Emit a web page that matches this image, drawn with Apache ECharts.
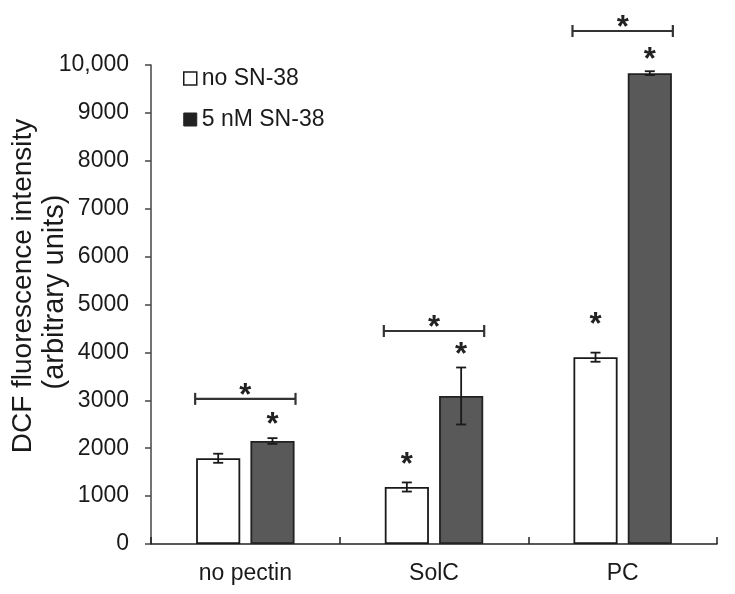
<!DOCTYPE html>
<html><head><meta charset="utf-8">
<script src="https://cdn.jsdelivr.net/npm/echarts@6.0.0/dist/echarts.min.js"></script>
<style>html,body{margin:0;padding:0;background:#fff}#c{width:735px;height:594px}</style>
</head><body><div id="c"></div>
<script>
// ---- data ----
const categories = ['no pectin', 'SolC', 'PC'];
const seriesNames = ['no SN-38', '5 nM SN-38'];
const noSN = [1790, 1190, 3900];
const noSNErr = [95, 95, 95];
const withSN = [2150, 3090, 9830];
const withSNErr = [60, 595, 40];
// significance marks (value-axis positions)
const noSNStar = [null, 1795, 4718];
const withSNStar = [2630, 4092, 10250];
const bracketY = [3030, 4447, 10710];
const bracketStarY = [3236, 4656, 10919];
const yMin = 0, yMax = 10000, yStep = 1000;

const FONT = 'Liberation Sans, Arial, sans-serif';
const OFF = 0.1439; // bar centre offset as fraction of band width
const INK = '#1a1a1a';

const errData = [];
categories.forEach((c, i) => {
  errData.push([i, noSN[i], noSNErr[i], -1]);
  errData.push([i, withSN[i], withSNErr[i], 1]);
});
const starData = [];
categories.forEach((c, i) => {
  if (noSNStar[i] != null) starData.push([i, noSNStar[i], -1]);
  if (withSNStar[i] != null) starData.push([i, withSNStar[i], 1]);
  starData.push([i, bracketStarY[i], 0]);
});
const bracketData = categories.map((c, i) => [i, bracketY[i]]);

function errRender(params, api) {
  const c = api.value(0), v = api.value(1), e = api.value(2), side = api.value(3);
  const band = api.size([1, 0])[0];
  const top = api.coord([c, v + e]), bot = api.coord([c, v - e]);
  const x = top[0] + side * band * OFF;
  const hw = 5;
  const st = { stroke: INK, lineWidth: 1.8 };
  return { type: 'group', children: [
    { type: 'line', shape: { x1: x, y1: top[1], x2: x, y2: bot[1] }, style: st },
    { type: 'line', shape: { x1: x - hw, y1: top[1], x2: x + hw, y2: top[1] }, style: st },
    { type: 'line', shape: { x1: x - hw, y1: bot[1], x2: x + hw, y2: bot[1] }, style: st }
  ]};
}
function starRender(params, api) {
  const c = api.value(0), v = api.value(1), side = api.value(2);
  const band = api.size([1, 0])[0];
  const p = api.coord([c, v]);
  const x = p[0] + side * band * OFF;
  return { type: 'text', x: x, y: p[1] + 7, style: {
    text: '*', fontSize: 31, fontWeight: 'bold', fontFamily: FONT, fill: '#222', align: 'center', verticalAlign: 'middle'
  }};
}
function bracketRender(params, api) {
  const c = api.value(0), v = api.value(1);
  const band = api.size([1, 0])[0];
  const p = api.coord([c, v]);
  const half = band * 0.266;
  const x1 = p[0] - half, x2 = p[0] + half, y = p[1];
  const st = { stroke: '#333', lineWidth: 2.2 };
  return { type: 'group', children: [
    { type: 'line', shape: { x1: x1, y1: y, x2: x2, y2: y }, style: st },
    { type: 'line', shape: { x1: x1, y1: y - 6, x2: x1, y2: y + 6 }, style: st },
    { type: 'line', shape: { x1: x2, y1: y - 6, x2: x2, y2: y + 6 }, style: st }
  ]};
}

const chart = echarts.init(document.getElementById('c'), null, { renderer: 'canvas' });
chart.setOption({
  animation: false,
  backgroundColor: '#fff',
  grid: { left: 151, right: 18, top: 65, bottom: 50, containLabel: false },
  legend: {
    orient: 'vertical', left: 178, top: 62, itemWidth: 13, itemHeight: 13, itemGap: 18,
    icon: 'rect',
    textStyle: { fontSize: 23, color: INK, fontFamily: FONT },
    data: [
      { name: seriesNames[0], itemStyle: { color: '#fff', borderColor: INK, borderWidth: 1.5 } },
      { name: seriesNames[1], itemStyle: { color: '#222', borderColor: '#222', borderWidth: 1 } }
    ]
  },
  graphic: [
    { type: 'text', x: 23, y: 286, rotation: Math.PI / 2, style: {
      text: 'DCF fluorescence intensity', fontSize: 28, fontFamily: FONT, fill: INK, align: 'center', verticalAlign: 'middle' } },
    { type: 'text', x: 55, y: 292, rotation: Math.PI / 2, style: {
      text: '(arbitrary units)', fontSize: 29, fontFamily: FONT, fill: INK, align: 'center', verticalAlign: 'middle' } }
  ],
  xAxis: {
    type: 'category', data: categories,
    axisLine: { lineStyle: { color: '#222', width: 1.5 } },
    axisTick: { show: true, inside: true, length: 7, lineStyle: { color: '#222', width: 1.5 } },
    axisLabel: { fontSize: 23, color: INK, fontFamily: FONT, margin: 18 },
    splitLine: { show: false }
  },
  yAxis: {
    type: 'value', min: yMin, max: yMax, interval: yStep,
    axisLine: { show: true, lineStyle: { color: '#444', width: 1.5 } },
    axisTick: { show: true, length: 6, lineStyle: { color: '#444', width: 1.5 } },
    axisLabel: { fontSize: 23, color: INK, fontFamily: FONT, margin: 22,
      formatter: v => v === 10000 ? '10,000' : String(v) },
    splitLine: { show: false }
  },
  series: [
    { name: seriesNames[0], type: 'bar', data: noSN, barWidth: '23.4%', barGap: '23%',
      itemStyle: { color: '#fff', borderColor: INK, borderWidth: 1.8 } },
    { name: seriesNames[1], type: 'bar', data: withSN, barWidth: '23.4%', barGap: '23%',
      itemStyle: { color: '#595959', borderColor: '#222', borderWidth: 1.8 } },
    { type: 'custom', renderItem: errRender, data: errData, clip: false, z: 5 },
    { type: 'custom', renderItem: bracketRender, data: bracketData, clip: false, z: 5 },
    { type: 'custom', renderItem: starRender, data: starData, clip: false, z: 5 }
  ]
});
</script>
</body></html>
